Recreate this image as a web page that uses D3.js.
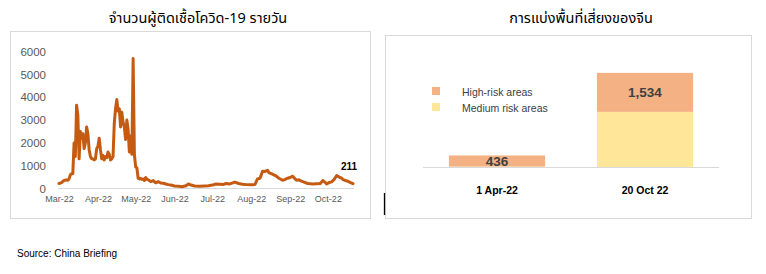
<!DOCTYPE html>
<html>
 <head>
  <meta charset="utf-8">
  <title>COVID China</title>
  <style>
  body { margin: 0; background: #fff; }
  svg { display: block; font-family: "Liberation Sans", Arial, sans-serif; }
  .thai { font-family: Tahoma, "Noto Sans Thai", "Noto Sans", sans-serif; }
  </style>
  <script src="https://cdnjs.cloudflare.com/ajax/libs/d3/7.8.3/d3.min.js"></script>
 </head>
 <body>
  <script>
   // daily cases (left chart)
   const caseDates = ["2022-03-01","2022-03-03","2022-03-05","2022-03-07","2022-03-08","2022-03-09","2022-03-10","2022-03-11","2022-03-12","2022-03-13","2022-03-14","2022-03-15","2022-03-16","2022-03-17","2022-03-18","2022-03-19","2022-03-20","2022-03-21","2022-03-22","2022-03-23","2022-03-24","2022-03-25","2022-03-26","2022-03-27","2022-03-28","2022-03-29","2022-03-30","2022-03-31","2022-04-01","2022-04-02","2022-04-03","2022-04-04","2022-04-05","2022-04-06","2022-04-07","2022-04-08","2022-04-09","2022-04-10","2022-04-11","2022-04-12","2022-04-13","2022-04-14","2022-04-15","2022-04-16","2022-04-17","2022-04-18","2022-04-19","2022-04-20","2022-04-21","2022-04-22","2022-04-23","2022-04-24","2022-04-25","2022-04-26","2022-04-27","2022-04-28","2022-04-29","2022-04-30","2022-05-01","2022-05-02","2022-05-03","2022-05-04","2022-05-05","2022-05-06","2022-05-07","2022-05-08","2022-05-09","2022-05-10","2022-05-11","2022-05-13","2022-05-15","2022-05-17","2022-05-19","2022-05-21","2022-05-23","2022-05-25","2022-05-27","2022-05-29","2022-06-01","2022-06-04","2022-06-07","2022-06-10","2022-06-12","2022-06-14","2022-06-17","2022-06-21","2022-06-25","2022-06-28","2022-07-01","2022-07-04","2022-07-07","2022-07-10","2022-07-12","2022-07-15","2022-07-19","2022-07-22","2022-07-25","2022-07-28","2022-08-01","2022-08-04","2022-08-06","2022-08-08","2022-08-10","2022-08-12","2022-08-14","2022-08-15","2022-08-17","2022-08-19","2022-08-21","2022-08-23","2022-08-26","2022-08-28","2022-08-30","2022-09-01","2022-09-03","2022-09-05","2022-09-06","2022-09-08","2022-09-10","2022-09-12","2022-09-15","2022-09-17","2022-09-19","2022-09-22","2022-09-25","2022-09-27","2022-09-29","2022-09-30","2022-10-02","2022-10-04","2022-10-06","2022-10-08","2022-10-10","2022-10-12","2022-10-13","2022-10-15","2022-10-17","2022-10-19","2022-10-21"];
   const caseValues = [220,260,350,380,360,420,600,650,650,2000,1400,3650,3200,1300,2500,2200,2400,1750,2000,2700,2400,1700,1400,1300,1300,1250,1300,1750,1850,2200,1700,1300,1450,1250,1400,1350,1600,1500,1250,1300,1400,2850,3500,3900,3400,3500,2700,3350,2900,2700,2150,3000,2600,1600,2300,1500,5700,1500,950,900,450,420,450,400,420,350,480,400,380,300,350,250,300,240,230,200,170,150,110,100,80,120,200,150,110,100,110,120,150,200,190,180,220,200,280,220,190,170,160,180,420,450,760,750,800,700,650,600,540,450,360,400,450,480,540,420,360,380,320,280,220,210,200,210,220,350,260,200,260,290,400,570,500,450,390,350,320,260,211];
   const caseTicks = [0,1000,2000,3000,4000,5000,6000];

   // risk areas (right chart)
   const riskDates = ["1 Apr-22","20 Oct 22"];
   const highRisk = [436,1534];
   const mediumRisk = [30,2180];
   const riskSeries = ["High-risk areas","Medium risk areas"];

   const svg = d3.select("body").append("svg")
                 .attr("width", 766)
                 .attr("height", 274);

   // ---------- left chart ----------
   svg.append("text").attr("class", "thai")
      .attr("x", 198).attr("y", 23)
      .attr("text-anchor", "middle")
      .attr("font-size", 14.5).attr("fill", "#000")
      .text("จำนวนผู้ติดเชื้อโควิด-19 รายวัน");

   svg.append("rect")
      .attr("x", 10.5).attr("y", 31.5).attr("width", 360).attr("height", 187)
      .attr("fill", "none").attr("stroke", "#d9d9d9");

   const parse = d3.timeParse("%Y-%m-%d");
   const cases = caseDates.map((d, i) => ({date: parse(d), value: caseValues[i]}));

   const x = d3.scaleTime()
               .domain([parse("2022-03-01"), parse("2022-10-21")])
               .range([59, 353]);
   const y = d3.scaleLinear()
               .domain([0, 6000])
               .range([188.5, 51.7]);

   const yAxis = d3.axisLeft(y).tickValues(caseTicks).tickFormat(d3.format("d"))
                   .tickSize(0).tickPadding(0);
   const gy = svg.append("g").attr("transform", "translate(46,0)").call(yAxis);
   gy.select(".domain").remove();
   gy.selectAll("text").attr("font-size", 11.5).attr("fill", "#595959")
     .attr("font-family", "'Liberation Sans', Arial, sans-serif");

   const xAxis = d3.axisBottom(x).ticks(d3.timeMonth.every(1))
                   .tickFormat(d3.timeFormat("%b-%y")).tickSize(0).tickPadding(7);
   const gx = svg.append("g").attr("transform", "translate(0,188.5)").call(xAxis);
   gx.select(".domain").attr("stroke", "#d9d9d9").attr("d", "M58,0H354");
   gx.selectAll("text").attr("font-size", 9).attr("fill", "#595959")
     .attr("font-family", "'Liberation Sans', Arial, sans-serif");

   const line = d3.line().x(d => x(d.date)).y(d => y(d.value));
   svg.append("path").datum(cases)
      .attr("d", line)
      .attr("fill", "none")
      .attr("stroke", "#c55a11")
      .attr("stroke-width", 3)
      .attr("stroke-linejoin", "round")
      .attr("stroke-linecap", "round");

   const last = cases[cases.length - 1];
   svg.append("text")
      .attr("x", x(last.date) - 4).attr("y", y(last.value) - 14)
      .attr("text-anchor", "middle")
      .attr("font-size", 10).attr("font-weight", "bold").attr("fill", "#000")
      .text(last.value);

   // ---------- right chart ----------
   svg.append("text").attr("class", "thai")
      .attr("x", 581).attr("y", 23)
      .attr("text-anchor", "middle")
      .attr("font-size", 14.5).attr("fill", "#000")
      .text("การแบ่งพื้นที่เสี่ยงของจีน");

   svg.append("rect")
      .attr("x", 385.5).attr("y", 35.5).attr("width", 366).attr("height", 183)
      .attr("fill", "none").attr("stroke", "#d9d9d9");

   const colors = ["#f4b183", "#ffe699"];

   const xb = d3.scaleBand().domain(riskDates).range([423, 719]).paddingInner(0.35).paddingOuter(0.175);
   const yb = d3.scaleLinear().domain([0, 4000]).range([167.3, 65.6]);

   const rows = riskDates.map((d, i) => ({cat: d, high: highRisk[i], medium: mediumRisk[i]}));
   const stack = d3.stack().keys(["medium", "high"])(rows);

   svg.append("g").selectAll("g")
      .data(stack)
      .join("g")
      .attr("fill", d => d.key === "high" ? colors[0] : colors[1])
      .selectAll("rect")
      .data(d => d)
      .join("rect")
      .attr("x", d => xb(d.data.cat))
      .attr("width", xb.bandwidth())
      .attr("y", d => yb(d[1]))
      .attr("height", d => yb(d[0]) - yb(d[1]));

   const xbAxis = d3.axisBottom(xb).tickSize(0).tickPadding(19);
   const gxb = svg.append("g").attr("transform", "translate(0,167.5)").call(xbAxis);
   gxb.select(".domain").attr("stroke", "#d9d9d9").attr("d", "M423,0H719");
   gxb.selectAll("text").attr("font-size", 10.5).attr("font-weight", "bold").attr("fill", "#000")
      .attr("font-family", "'Liberation Sans', Arial, sans-serif");

   // value labels on high-risk segments
   const highLayer = stack.find(s => s.key === "high");
   svg.append("g").selectAll("text")
      .data(highLayer)
      .join("text")
      .attr("x", d => xb(d.data.cat) + xb.bandwidth() / 2)
      .attr("y", d => (yb(d[0]) + yb(d[1])) / 2 + 5)
      .attr("text-anchor", "middle")
      .attr("font-size", 13.5).attr("font-weight", "bold").attr("fill", "#404040")
      .text(d => d3.format(",")(d.data.high));

   // legend
   const legend = svg.append("g");
   legend.selectAll("rect")
         .data(riskSeries)
         .join("rect")
         .attr("x", 432).attr("y", (d, i) => 87 + 16 * i)
         .attr("width", 8).attr("height", 8)
         .attr("fill", (d, i) => colors[i]);
   legend.selectAll("text")
         .data(riskSeries)
         .join("text")
         .attr("x", 462).attr("y", (d, i) => 96 + 16 * i)
         .attr("font-size", 10.5).attr("fill", "#404040")
         .text(d => d);

   // stray cursor mark in the original
   svg.append("line")
      .attr("x1", 384.5).attr("x2", 384.5).attr("y1", 193).attr("y2", 215)
      .attr("stroke", "#000").attr("stroke-width", 1.3);

   svg.append("text")
      .attr("x", 17).attr("y", 257)
      .attr("font-size", 10).attr("fill", "#000")
      .text("Source: China Briefing");
  </script>
 </body>
</html>
